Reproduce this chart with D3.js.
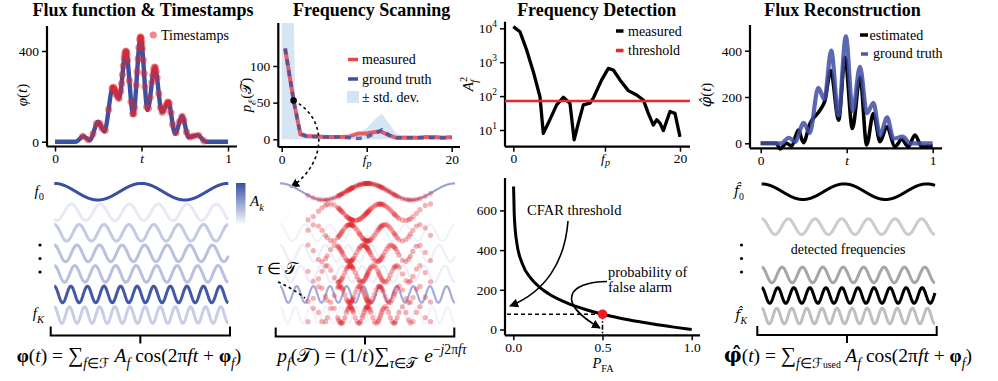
<!DOCTYPE html>
<html><head><meta charset="utf-8">
<script src="https://cdn.jsdelivr.net/npm/d3@7"></script>
<style>body{margin:0;background:#fff}svg{display:block}
svg text{font-family:"Liberation Serif","Times New Roman",Times,serif}
svg tspan.hat{font-family:"DejaVu Serif",serif}</style>
</head><body>
<script>
// ---------------- DATA ----------------
// Flux function (ground truth) key points
const fluxT = [0, 0.12, 0.164, 0.2, 0.25, 0.285, 0.335, 0.37, 0.41, 0.452, 0.495, 0.535, 0.577, 0.618, 0.655, 0.694, 0.735, 0.772, 0.825, 0.87, 1];
const fluxV = [0, 0, 24, 6, 88, 45, 240, 190, 400, 120, 462, 140, 330, 130, 175, 35, 112, 20, 29, 0, 0];
// Estimated flux (reconstruction)
const estT = [0, 0.09, 0.112, 0.15, 0.18, 0.219, 0.248, 0.287, 0.345, 0.374, 0.407, 0.453, 0.49, 0.533, 0.578, 0.616, 0.655, 0.694, 0.733, 0.781, 0.82, 0.858, 0.897, 0.936, 1];
const estV = [0, 0, -24, 0, -12, 57, 3, 86, 143, 186, 314, 100, 371, 64, 286, -7, 129, 7, 71, -14, 17, -14, 36, -14, -11];
// Timestamps
const timestamps = [0.16,0.19,0.22,0.24,0.26,0.27,0.29,0.31,0.33,0.335,0.34,0.345,0.35,0.355,0.36,0.37,0.38,0.385,0.39,0.395,0.40,0.403,0.406,0.41,0.413,0.416,0.42,0.43,0.44,0.45,0.455,0.46,0.47,0.475,0.48,0.485,0.49,0.493,0.496,0.499,0.502,0.505,0.51,0.515,0.52,0.53,0.54,0.55,0.56,0.565,0.57,0.575,0.58,0.585,0.59,0.60,0.61,0.62,0.63,0.64,0.65,0.655,0.66,0.67,0.68,0.70,0.72,0.735,0.745,0.76,0.78,0.80,0.83,0.86];
// Frequency scanning
const scanF = [0.4, 1.4, 2.2, 3, 4, 5, 6, 7, 8, 9, 10, 11, 11.6, 12.5, 13.5, 15, 16, 17, 18, 19, 20];
const scanMeasured = [124, 53, 7, 4, 4, 3, 3, 3, 4, 8, 8, 10, 11, 6, 2, 2, 2, 3, 3, 2, 3];
const truthF = [0.4, 1.4, 2.2, 3, 5, 7, 8, 9, 10, 11, 11.8, 12.6, 13.5, 15, 20];
const truthV = [124, 53, 7, 4, 3, 3, 2, 1, 3, 8, 13, 6, 2, 2, 2];
const stdF = [0, 1.3, 1.6, 2.2, 3, 6, 8, 9, 10, 11, 11.8, 12.6, 13.4, 14, 16, 20];
const stdHi = [250, 250, 45, 12, 8, 6, 6, 8, 15, 28, 35, 22, 9, 6, 5, 5];
const scanMarkerF = 1.4, scanMarkerV = 53;
// Frequency detection
const detF = [0, 0.8, 1.6, 2.4, 3.2, 3.6, 4.2, 5.2, 6.0, 6.8, 7.3, 7.8, 8.4, 9.2, 9.6, 10.6, 11.4, 12, 12.8, 13.8, 14.8, 15.6, 16.2, 16.8, 17.2, 17.6, 18.0, 18.8, 19.4, 20];
const detV = [11200, 7900, 2300, 525, 96, 8, 16, 55, 92, 61, 5.1, 16, 55, 62, 87, 300, 660, 590, 300, 145, 108, 77, 31, 14, 20, 16, 9.6, 35, 31, 6.3];
const threshold = 72;
// CFAR threshold vs probability of false alarm
const pfa = [0.0015, 0.005, 0.01, 0.02, 0.05, 0.1, 0.15, 0.2, 0.3, 0.4, 0.5, 0.6, 0.7, 0.8, 0.9, 1.0];
const cfar = [720, 588, 511, 434, 333, 256, 211, 179, 134, 102, 77, 57, 40, 25, 12, 0];
const pfaMarker = 0.5, cfarMarker = 77;
// Sinusoid components
const compFreq = [2, 6, 7, 7.7, 8.5, 10.5, 11.5];
const compAmp = [1.0, 0.12, 0.3, 0.35, 0.35, 0.95, 0.28];
const compPhase = [0, 2.6, 0, 0, 0, 0, 0];
const scanRowFreq = [2, 3.5, 5, 6.3, 7.5, 8.8, 10];
const detRows = [0, 1, 4, 5, 6];
const detFreq = [2.1, 6.5, 8.5, 10.8, 11.5];
const detAmp = [1.0, 0.2, 0.35, 1.0, 0.25];
const detPhase = [0, 0, 0, 0, 0];
// tick values
const fluxTicks = [0, 0.5, 1], fluxTickLabels = ["0", "t", "1"];
const fluxYTicks = [0, 400];
const scanXTicks = [0, 10, 20], scanYTicks = [0, 50, 100];
const detXTicks = [0, 11, 20], detYTicks = [10, 100, 1000, 10000];
const recYTicks = [0, 200, 400];
const cfarYTicks = [0, 200, 400, 600], cfarXTicks = [0, 0.5, 1];

// ---------------- HELPERS ----------------
const svg = d3.select("body").append("svg").attr("width", 998).attr("height", 381)
  .style("font-family", "'Liberation Serif', serif");
const defs = svg.append("defs");
defs.append("marker").attr("id", "ah").attr("viewBox", "0 0 10 10").attr("refX", 9).attr("refY", 5)
  .attr("markerWidth", 9).attr("markerHeight", 9).attr("orient", "auto").attr("markerUnits", "userSpaceOnUse")
  .append("path").attr("d", "M0,0 L10,5 L0,10 z").attr("fill", "#000");

function monoEval(xs, ys) {
  const n = xs.length, s = [], h = [], m = [];
  for (let i = 0; i < n - 1; i++) { h[i] = xs[i + 1] - xs[i]; s[i] = (ys[i + 1] - ys[i]) / h[i]; }
  for (let i = 1; i < n - 1; i++) {
    const p = (s[i - 1] * h[i] + s[i] * h[i - 1]) / (h[i - 1] + h[i]);
    m[i] = (Math.sign(s[i - 1]) + Math.sign(s[i])) * Math.min(Math.abs(s[i - 1]), Math.abs(s[i]), 0.5 * Math.abs(p)) || 0;
  }
  m[0] = (3 * s[0] - m[1]) / 2; m[n - 1] = (3 * s[n - 2] - m[n - 2]) / 2;
  return x => {
    let i = d3.bisectRight(xs, x) - 1; i = Math.max(0, Math.min(n - 2, i));
    const hh = h[i], t = (x - xs[i]) / hh, t2 = t * t, t3 = t2 * t;
    return (2 * t3 - 3 * t2 + 1) * ys[i] + (t3 - 2 * t2 + t) * hh * m[i] + (-2 * t3 + 3 * t2) * ys[i + 1] + (t3 - t2) * hh * m[i + 1];
  };
}

function styleAxis(g) {
  g.select(".domain").remove();
  g.attr("font-family", null);
  g.selectAll(".tick line").attr("stroke", "#000").attr("stroke-width", 1.5);
  g.selectAll(".tick text").attr("font-size", 13.5).attr("fill", "#000");
}
function yAxis(scale, x, vals, fmt, y0, y1) {
  const g = svg.append("g").attr("transform", `translate(${x},0)`)
    .call(d3.axisLeft(scale).tickValues(vals).tickFormat(fmt).tickSize(5).tickPadding(3));
  styleAxis(g);
  svg.append("line").attr("x1", x).attr("x2", x).attr("y1", y0).attr("y2", y1).attr("stroke", "#000").attr("stroke-width", 2.2);
  return g;
}
function xAxis(scale, y, vals, fmt, x0, x1) {
  const g = svg.append("g").attr("transform", `translate(0,${y})`)
    .call(d3.axisBottom(scale).tickValues(vals).tickFormat(fmt).tickSize(5).tickPadding(2));
  styleAxis(g);
  svg.append("line").attr("x1", x0).attr("x2", x1).attr("y1", y).attr("y2", y).attr("stroke", "#000").attr("stroke-width", 2.2);
  return g;
}
// math text: parts [{t, i, sub, sup, b, s, hat, dx}]
function mtext(parent, x, y, parts, size, anchor, extra) {
  const t = parent.append("text").attr("x", x).attr("y", y).attr("font-size", size)
    .attr("text-anchor", anchor || "start").attr("fill", "#000");
  if (extra) extra(t);
  let shift = 0;
  parts.forEach(p => {
    const target = p.sub ? 0.3 * size : p.sup ? -0.42 * size : 0;
    const ts = t.append("tspan").text(p.t).attr("dy", target - shift);
    shift = target;
    if (p.i) ts.attr("font-style", "italic");
    if (p.b) ts.attr("font-weight", "bold");
    if (p.hat) ts.attr("class", "hat");
    if (p.sub || p.sup) ts.attr("font-size", size * 0.7);
    if (p.s) ts.attr("font-size", size * p.s);
    if (p.dx) ts.attr("dx", p.dx);
  });
  return t;
}
function title(x, txt) {
  svg.append("text").attr("x", x).attr("y", 16).attr("text-anchor", "middle")
    .attr("font-size", 18).attr("font-weight", "bold").text(txt);
}
function bracket(x0, x1, y) {
  const xm = (x0 + x1) / 2;
  svg.append("path").attr("d", `M${x0},${y - 9} L${x0},${y} L${x1},${y} L${x1},${y - 9} M${xm},${y} L${xm},${y + 8}`)
    .attr("fill", "none").attr("stroke", "#000").attr("stroke-width", 2);
}
function wave(g, xs, yc, amp, f, ph, color, width, opacity) {
  const ts = d3.range(0, 1.0001, 0.002);
  g.append("path").datum(ts)
    .attr("d", d3.line().x(t => xs(t)).y(t => yc - amp * Math.cos(2 * Math.PI * f * t + ph)))
    .attr("fill", "none").attr("stroke", color).attr("stroke-width", width).attr("opacity", opacity == null ? 1 : opacity);
}

const BLUE = "#3b51a3", RED = "#e3262d";
const flux = monoEval(fluxT, fluxV);
const FS = 19.5; // formula size

// ================ PANEL 1 (top) ================
title(143, "Flux function & Timestamps");
const x1s = d3.scaleLinear([0, 1], [55, 228]);
const y1s = d3.scaleLinear([0, 400], [141.7, 51]);
yAxis(y1s, 47, fluxYTicks, d3.format("d"), 26, 146.5);
const gx1 = xAxis(x1s, 146.5, fluxTicks, (d, i) => fluxTickLabels[i], 47, 237);
gx1.selectAll(".tick text").filter((d, i) => i === 1).attr("font-style", "italic");
mtext(svg, 0, 0, [{ t: "φ", i: true }, { t: "(" }, { t: "t", i: true }, { t: ")" }], 15, "middle",
  t => t.attr("transform", "translate(27,95) rotate(-90)"));
svg.append("path").datum(fluxT.map((t, i) => [t, fluxV[i]]))
  .attr("d", d3.line().x(d => x1s(d[0])).y(d => y1s(d[1])).curve(d3.curveMonotoneX))
  .attr("fill", "none").attr("stroke", BLUE).attr("stroke-width", 4.4);
svg.append("g").selectAll("circle").data(timestamps).join("circle")
  .attr("cx", t => x1s(t)).attr("cy", t => y1s(flux(t))).attr("r", 3.6)
  .attr("fill", RED).attr("opacity", 0.5);
svg.append("circle").attr("cx", 153.3).attr("cy", 35).attr("r", 3.6).attr("fill", RED).attr("opacity", 0.55);
svg.append("text").attr("x", 161).attr("y", 39.5).attr("font-size", 14).text("Timestamps");

// ================ PANEL 1 (bottom) ================
const rowY = d3.scaleLinear([0, 6], [191.7, 315]);
const xw1 = d3.scaleLinear([0, 1], [54.3, 228.3]);
const blueScale = d3.interpolateRgb("#ffffff", "#3a4fa3");
const gb1 = svg.append("g");
compFreq.forEach((f, k) => wave(gb1, xw1, rowY(k), 8.3, f, compPhase[k], blueScale(compAmp[k]), 3));
mtext(svg, 44, 195.5, [{ t: "f", i: true }, { t: "0", sub: true }], 15, "end");
mtext(svg, 44, 318, [{ t: "f", i: true }, { t: "K", sub: true, i: true }], 15, "end");
[245, 258.5, 272].forEach(y => svg.append("circle").attr("cx", 40).attr("cy", y).attr("r", 1.6).attr("fill", "#000"));
const grad = defs.append("linearGradient").attr("id", "cb").attr("x1", 0).attr("x2", 0).attr("y1", 0).attr("y2", 1);
grad.append("stop").attr("offset", "0%").attr("stop-color", "#3a4fa3");
grad.append("stop").attr("offset", "100%").attr("stop-color", "#ffffff");
svg.append("rect").attr("x", 236).attr("y", 183).attr("width", 9.5).attr("height", 42).attr("fill", "url(#cb)");
mtext(svg, 250, 206, [{ t: "A", i: true }, { t: "k", sub: true, i: true }], 15, "start");
bracket(50.7, 230, 335.5);
mtext(svg, 129, 362, [{ t: "φ", b: true }, { t: "(" }, { t: "t", i: true }, { t: ") = " }, { t: "∑", s: 1.1 },
  { t: "f", sub: true, i: true }, { t: "∈ℱ", sub: true }, { t: " A", i: true }, { t: "f", sub: true, i: true },
  { t: " cos(2π" }, { t: "ft", i: true }, { t: " + " }, { t: "φ", b: true }, { t: "f", sub: true, i: true }, { t: ")" }], FS, "middle");

// ================ PANEL 2 (top) ================
title(371.7, "Frequency Scanning");
const x2s = d3.scaleLinear([0, 20], [281.7, 451.7]);
const y2s = d3.scaleLinear([0, 100], [139.3, 66]);
defs.append("clipPath").attr("id", "clip2").append("rect").attr("x", 278).attr("y", 23).attr("width", 185).attr("height", 124);
const g2 = svg.append("g").attr("clip-path", "url(#clip2)");
g2.append("path").datum(stdF.map((f, i) => [f, stdHi[i]]))
  .attr("d", d3.area().x(d => x2s(d[0])).y0(y2s(0)).y1(d => y2s(d[1])))
  .attr("fill", "#cfe1f2").attr("opacity", 0.85);
g2.append("path").datum(scanF.map((f, i) => [f, scanMeasured[i]]))
  .attr("d", d3.line().x(d => x2s(d[0])).y(d => y2s(d[1])))
  .attr("fill", "none").attr("stroke", "#e8454a").attr("stroke-width", 4).attr("opacity", 0.85);
g2.append("path").datum(truthF.map((f, i) => [f, truthV[i]]))
  .attr("d", d3.line().x(d => x2s(d[0])).y(d => y2s(d[1])))
  .attr("fill", "none").attr("stroke", "#3b4fa3").attr("stroke-width", 3.5).attr("stroke-dasharray", "6,5").attr("opacity", 0.8);
yAxis(y2s, 278.3, scanYTicks, d3.format("d"), 23, 147);
const gx2 = xAxis(x2s, 147, scanXTicks, d => d, 278.3, 460);
function fpLabel(g) {
  g.selectAll(".tick text").each(function (d, i) {
    if (i === 1) {
      const t = d3.select(this); t.text(null);
      t.append("tspan").attr("font-style", "italic").text("f");
      t.append("tspan").attr("font-style", "italic").attr("font-size", 10).attr("dy", 3).text("p");
    }
  });
}
fpLabel(gx2);
mtext(svg, 0, 0, [{ t: "p", i: true }, { t: "ℰ", sub: true }, { t: "(" }, { t: "𝒯" }, { t: ")" }], 15, "middle",
  t => t.attr("transform", "translate(251,95) rotate(-90)"));
svg.append("circle").attr("cx", x2s(scanMarkerF)).attr("cy", y2s(scanMarkerV)).attr("r", 3.3).attr("fill", "#000");
svg.append("path").attr("d", `M${x2s(scanMarkerF)},${y2s(scanMarkerV)} C 330,120 325,165 291,187`)
  .attr("fill", "none").attr("stroke", "#000").attr("stroke-width", 1.6).attr("stroke-dasharray", "3,3")
  .attr("marker-end", "url(#ah)");
// legend
svg.append("line").attr("x1", 348).attr("x2", 358).attr("y1", 59.5).attr("y2", 59.5).attr("stroke", "#e8454a").attr("stroke-width", 3.5);
svg.append("text").attr("x", 362).attr("y", 64).attr("font-size", 14).text("measured");
svg.append("line").attr("x1", 348).attr("x2", 358).attr("y1", 79).attr("y2", 79).attr("stroke", "#3b4fa3").attr("stroke-width", 3.5);
svg.append("text").attr("x", 362).attr("y", 83.5).attr("font-size", 14).text("ground truth");
svg.append("rect").attr("x", 347).attr("y", 91).attr("width", 12).attr("height", 12).attr("fill", "#d4e5f4");
svg.append("text").attr("x", 362).attr("y", 102).attr("font-size", 14).text("± std. dev.");

// ================ PANEL 2 (bottom) ================
const xw2 = d3.scaleLinear([0, 1], [280, 455]);
const lavScale = d3.interpolateRgb("#ffffff", "#9da3d8");
const gb2 = svg.append("g");
compFreq.forEach((f, k) => wave(gb2, xw2, rowY(k), 8.3, f, compPhase[k], lavScale(Math.pow(compAmp[k], 1.6)), 2.2));
const gd2 = svg.append("g");
scanRowFreq.forEach((f, k) => {
  gd2.selectAll(null).data(timestamps).join("circle")
    .attr("cx", t => xw2(t)).attr("cy", t => rowY(k) - 8.3 * Math.cos(2 * Math.PI * f * t))
    .attr("r", 2.6).attr("fill", RED).attr("opacity", 0.35);
});
mtext(svg, 257, 274, [{ t: "τ", i: true }, { t: " ∈ " }, { t: "𝒯" }], 16, "start");
svg.append("path").attr("d", "M278,282 Q292,288 305,298").attr("fill", "none").attr("stroke", "#000")
  .attr("stroke-width", 1.6).attr("stroke-dasharray", "3,3");
bracket(275.7, 454.3, 336.5);
mtext(svg, 372, 362, [{ t: "p", i: true }, { t: "f", sub: true, i: true }, { t: "(" }, { t: "𝒯" }, { t: ") = (1/" , dx: 1 },
  { t: "t", i: true }, { t: ")" }, { t: "∑", s: 1.1 }, { t: "τ", sub: true, i: true }, { t: "∈𝒯", sub: true },
  { t: " e", i: true, dx: 2 }, { t: "−", sup: true }, { t: "j", sup: true, i: true }, { t: "2π", sup: true }, { t: "fτ", sup: true, i: true }], FS, "middle");

// ================ PANEL 3 (top) ================
title(596.7, "Frequency Detection");
const x3s = d3.scaleLinear([0, 20], [513.3, 680]);
const y3s = d3.scaleLog([1, 10000], [163.9, 28.3]);
const gy3 = yAxis(y3s, 505, detYTicks, () => "", 21.7, 146.7);
gy3.selectAll(".tick").each(function (d) {
  const t = d3.select(this).select("text"); t.text(null);
  t.append("tspan").text("10");
  t.append("tspan").attr("font-size", 9.5).attr("dy", -6).text(Math.round(Math.log10(d)));
});
const gx3 = xAxis(x3s, 146.7, detXTicks, d => d, 505, 690);
fpLabel(gx3);
mtext(svg, 0, 0, [{ t: "A", i: true }, { t: "2", sup: true }, { t: "f", sub: true, i: true, dx: -6 }], 15, "middle",
  t => t.attr("transform", "translate(473,84) rotate(-90)"));
svg.append("path").datum(detF.map((f, i) => [f, detV[i]]))
  .attr("d", d3.line().x(d => x3s(d[0])).y(d => y3s(d[1])))
  .attr("fill", "none").attr("stroke", "#000").attr("stroke-width", 3.3).attr("stroke-linejoin", "round");
svg.append("line").attr("x1", 505).attr("x2", 690).attr("y1", y3s(threshold)).attr("y2", y3s(threshold))
  .attr("stroke", "#e8262c").attr("stroke-width", 2.6);
svg.append("line").attr("x1", 616).attr("x2", 623.5).attr("y1", 31).attr("y2", 31).attr("stroke", "#000").attr("stroke-width", 3.5);
svg.append("text").attr("x", 628).attr("y", 35.5).attr("font-size", 14).text("measured");
svg.append("line").attr("x1", 616).attr("x2", 623.5).attr("y1", 50.5).attr("y2", 50.5).attr("stroke", "#e8262c").attr("stroke-width", 3.5);
svg.append("text").attr("x", 628).attr("y", 55).attr("font-size", 14).text("threshold");

// ================ PANEL 3 (bottom) ================
const x3b = d3.scaleLinear([0, 1], [513.3, 691.7]);
const y3b = d3.scaleLinear([0, 600], [329.5, 210.4]);
yAxis(y3b, 505, cfarYTicks, d3.format("d"), 178, 335.3);
xAxis(x3b, 335.3, cfarXTicks, d3.format(".1f"), 505, 700);
mtext(svg, 603, 368, [{ t: "P", i: true }, { t: "FA", sub: true }], 14.5, "middle");
svg.append("path").datum(pfa.map((p, i) => [p, cfar[i]]))
  .attr("d", d3.line().x(d => x3b(d[0])).y(d => y3b(d[1])).curve(d3.curveMonotoneX))
  .attr("fill", "none").attr("stroke", "#000").attr("stroke-width", 3);
svg.append("line").attr("x1", 507).attr("x2", x3b(pfaMarker)).attr("y1", y3b(cfarMarker)).attr("y2", y3b(cfarMarker))
  .attr("stroke", "#000").attr("stroke-width", 1.6).attr("stroke-dasharray", "4,3");
svg.append("line").attr("x1", x3b(pfaMarker)).attr("x2", x3b(pfaMarker)).attr("y1", y3b(cfarMarker)).attr("y2", 335)
  .attr("stroke", "#000").attr("stroke-width", 1.6).attr("stroke-dasharray", "5,2,1.5,2");
svg.append("circle").attr("cx", x3b(pfaMarker)).attr("cy", y3b(cfarMarker)).attr("r", 4.8).attr("fill", "#ee1c25");
svg.append("text").attr("x", 527).attr("y", 215).attr("font-size", 14.5).text("CFAR threshold");
svg.append("path").attr("d", "M568,221 C 565,262 545,292 510,306").attr("fill", "none").attr("stroke", "#000")
  .attr("stroke-width", 1.6).attr("marker-end", "url(#ah)");
svg.append("text").attr("x", 608).attr("y", 277).attr("font-size", 14.5).text("probability of");
svg.append("text").attr("x", 608).attr("y", 292).attr("font-size", 14.5).text("false alarm");
svg.append("path").attr("d", "M607,281.5 C 568,282 555,302 600,328").attr("fill", "none").attr("stroke", "#000")
  .attr("stroke-width", 1.6).attr("marker-end", "url(#ah)");

// ================ PANEL 4 (top) ================
title(842.5, "Flux Reconstruction");
const x4s = d3.scaleLinear([0, 1], [760.7, 932.7]);
const y4s = d3.scaleLinear([0, 400], [143.3, 50.7]);
yAxis(y4s, 750, recYTicks, d3.format("d"), 25, 148.3);
const gx4 = xAxis(x4s, 148.3, fluxTicks, (d, i) => fluxTickLabels[i], 750, 942);
gx4.selectAll(".tick text").filter((d, i) => i === 1).attr("font-style", "italic");
mtext(svg, 0, 0, [{ t: "φ̂", i: true, hat: true }, { t: "(" }, { t: "t", i: true }, { t: ")" }], 15, "middle",
  t => t.attr("transform", "translate(711,95) rotate(-90)"));
svg.append("path").datum(estT.map((t, i) => [t, estV[i]]))
  .attr("d", d3.line().x(d => x4s(d[0])).y(d => y4s(d[1])).curve(d3.curveMonotoneX))
  .attr("fill", "none").attr("stroke", "#000").attr("stroke-width", 3.6);
svg.append("path").datum(fluxT.map((t, i) => [t, fluxV[i]]))
  .attr("d", d3.line().x(d => x4s(d[0])).y(d => y4s(d[1])).curve(d3.curveMonotoneX))
  .attr("fill", "none").attr("stroke", "#3f4ea3").attr("stroke-width", 4.2).attr("opacity", 0.85);
svg.append("line").attr("x1", 860).attr("x2", 868).attr("y1", 35).attr("y2", 35).attr("stroke", "#000").attr("stroke-width", 3.5);
svg.append("text").attr("x", 869.5).attr("y", 39.5).attr("font-size", 14).text("estimated");
svg.append("line").attr("x1", 861).attr("x2", 868).attr("y1", 54).attr("y2", 54).attr("stroke", "#4a58aa").attr("stroke-width", 3.5);
svg.append("text").attr("x", 873).attr("y", 58).attr("font-size", 14).text("ground truth");

// ================ PANEL 4 (bottom) ================
const xw4 = d3.scaleLinear([0, 1], [761.7, 935]);
const grayScale = d3.interpolateRgb("#ffffff", "#000000");
const rowSlot4 = [0, 1.7, 4.05, 5.05, 6.05];
const gb4 = svg.append("g");
detFreq.forEach((f, j) => wave(gb4, xw4, rowY(rowSlot4[j]), 7.8, f, detPhase[j], grayScale(detAmp[j]), 3));
svg.append("text").attr("x", 848).attr("y", 254).attr("text-anchor", "middle").attr("font-size", 14).text("detected frequencies");
mtext(svg, 744, 196, [{ t: "f̂", i: true, hat: true }, { t: "0", sub: true }], 14, "end");
mtext(svg, 747, 320, [{ t: "f̂", i: true, hat: true }, { t: "K", sub: true, i: true }], 14, "end");
[245, 258.5, 272].forEach(y => svg.append("circle").attr("cx", 741.5).attr("cy", y).attr("r", 1.6).attr("fill", "#000"));
bracket(757.3, 936.7, 335);
mtext(svg, 848, 362, [{ t: "φ̂", b: true, hat: true }, { t: "(" }, { t: "t", i: true }, { t: ") = " }, { t: "∑", s: 1.1 },
  { t: "f", sub: true, i: true }, { t: "∈ℱ", sub: true }, { t: "used", sub: true, s: 0.5 }, { t: " A", i: true }, { t: "f", sub: true, i: true },
  { t: " cos(2π" }, { t: "ft", i: true }, { t: " + " }, { t: "φ", b: true }, { t: "f", sub: true, i: true }, { t: ")" }], FS, "middle");
</script>
</body></html>
